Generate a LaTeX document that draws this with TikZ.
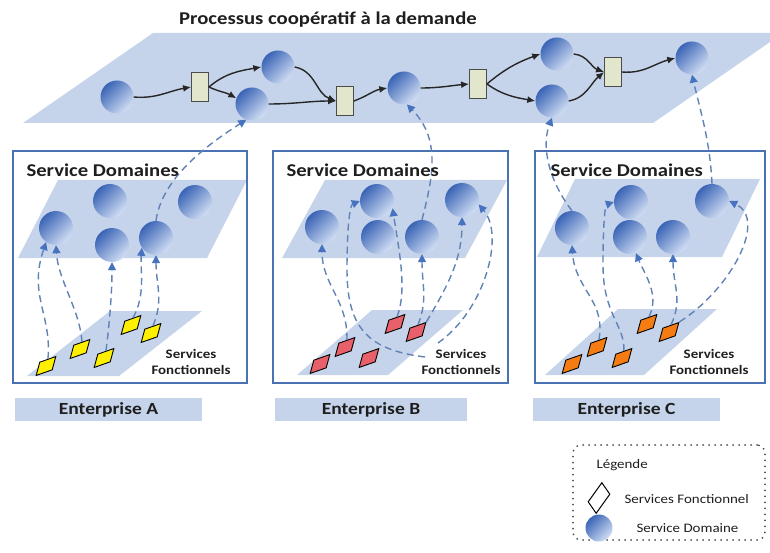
\documentclass[tikz,border=0pt]{standalone}
\usepackage{fontspec}
\setmainfont{Carlito}[FakeStretch=1.15]
\usetikzlibrary{arrows.meta,shapes.geometric}
\definecolor{planeblue}{RGB}{197,212,234}
\definecolor{boxblue}{RGB}{74,114,178}
\definecolor{linkblue}{RGB}{96,130,182}
\definecolor{tipblue}{RGB}{70,114,192}
\definecolor{domdark}{RGB}{58,100,182}
\definecolor{domlight}{RGB}{210,223,244}
\definecolor{gatefill}{RGB}{226,230,204}
\definecolor{svcyellow}{RGB}{255,240,0}
\definecolor{svcred}{RGB}{232,96,106}
\definecolor{svcorange}{RGB}{245,124,18}
\definecolor{inkdark}{RGB}{30,30,30}

\begin{document}
\begin{tikzpicture}[x=1pt,y=1pt,
    plane/.style={fill=planeblue},
    ebox/.style={draw=boxblue, line width=1.2pt},
    ebar/.style={fill=planeblue, minimum width=187pt, minimum height=23pt, inner sep=0pt,
                 text=inkdark, font=\bfseries\fontsize{17}{19}\selectfont},
    dom/.style={circle, inner sep=0pt, minimum size=33pt,
                top color=domdark, bottom color=domlight, shading angle=45},
    gate/.style={draw=black!70, fill=gatefill, line width=0.8pt,
                 minimum width=17pt, minimum height=29pt, inner sep=0pt},
    fsvc/.style={rectangle, draw=black, line width=0.9pt, minimum width=16pt,
                 minimum height=12pt, inner sep=0pt, yslant=0.35, xslant=0.3},
    flow/.style={-{Latex[length=8pt,width=7pt]}, line width=1.4pt, black!85},
    link/.style={-{Triangle[length=8pt,width=8pt,color=tipblue]}, draw=linkblue,
                 line width=1.4pt, dash pattern=on 7pt off 4.5pt},
    ttl/.style={text=inkdark, font=\bfseries\fontsize{18}{20}\selectfont},
    sdlbl/.style={anchor=west, text=inkdark, font=\bfseries\fontsize{18}{20}\selectfont},
    sflbl/.style={align=center, text=inkdark, font=\bfseries\fontsize{13}{16}\selectfont},
    leglbl/.style={anchor=west, text=inkdark, font=\fontsize{13}{15}\selectfont}
  ]
  \useasboundingbox (0,0) rectangle (770,-553);

  % planes
  \fill[plane] (153,-33) -- (770,-33) -- (770,-42) -- (653,-123) -- (23,-123) -- cycle;
  \fill[plane] (58,-180) -- (247,-180) -- (207,-258) -- (18,-258) -- cycle;
  \fill[plane] (325,-180) -- (507,-180) -- (465,-258) -- (282,-258) -- cycle;
  \fill[plane] (575,-179) -- (760,-179) -- (722,-257) -- (537,-257) -- cycle;
  \fill[plane] (110,-311) -- (202,-311) -- (119,-376) -- (27,-376) -- cycle;
  \fill[plane] (372,-310) -- (463,-310) -- (388,-375) -- (297,-375) -- cycle;
  \fill[plane] (618,-309) -- (717,-309) -- (644,-375) -- (545,-375) -- cycle;

  % enterprise boxes and bars
  \draw[ebox] (13,-151) rectangle (247,-383);
  \draw[ebox] (273,-151) rectangle (508,-383);
  \draw[ebox] (535,-151) rectangle (765,-383);
  \node[ebar] (ea) at (108.5,-409.5) {Enterprise A};
  \node[ebar, minimum width=192pt] (eb) at (371,-409.5) {Enterprise B};
  \node[ebar] (ec) at (626.5,-409.5) {Enterprise C};

  % legend
  \node[draw=black!70, rounded corners=8pt, line width=2pt, line cap=round,
        dash pattern=on 0pt off 6pt, minimum width=192pt, minimum height=95pt] (leg) at (669,-492.5) {};
  \node[leglbl] (legt) at (593,-465) {Légende};
  \node[diamond, draw=black, line width=1pt, minimum width=22pt, minimum height=29pt,
        inner sep=0pt, yslant=0.35, xslant=0.2] (legd) at (599,-498) {};
  \node[leglbl] (legdt) at (621,-499) {Services Fonctionnel};
  \node[dom, minimum size=27pt] (legc) at (599,-528) {};
  \node[leglbl] (legct) at (633,-528) {Service Domaine};

  % process on demand
  \node[dom] (t1) at (117,-97) {};
  \node[gate] (g1) at (200,-87) {};
  \node[dom] (t2) at (278,-67) {};
  \node[dom] (t3) at (252,-104) {};
  \node[gate] (g2) at (345,-101) {};
  \node[dom] (t4) at (404,-88) {};
  \node[gate] (g3) at (478,-84) {};
  \node[dom] (t5) at (557,-54) {};
  \node[dom] (t6) at (552,-101) {};
  \node[gate] (g4) at (613,-72) {};
  \node[dom] (t7) at (692,-58) {};

  % domain services
  \node[dom, minimum size=34pt] (a1) at (56,-228) {};
  \node[dom, minimum size=34pt] (a2) at (110,-201) {};
  \node[dom, minimum size=34pt] (a3) at (195,-202) {};
  \node[dom, minimum size=34pt] (a4) at (112,-245) {};
  \node[dom, minimum size=34pt] (a5) at (156,-238) {};
  \node[dom, minimum size=34pt] (b1) at (322,-227) {};
  \node[dom, minimum size=34pt] (b2) at (377,-201) {};
  \node[dom, minimum size=34pt] (b3) at (378,-237) {};
  \node[dom, minimum size=34pt] (b4) at (422,-237) {};
  \node[dom, minimum size=34pt] (b5) at (462,-200) {};
  \node[dom, minimum size=34pt] (c1) at (572,-228) {};
  \node[dom, minimum size=34pt] (c2) at (631,-202) {};
  \node[dom, minimum size=34pt] (c3) at (630,-237) {};
  \node[dom, minimum size=34pt] (c4) at (673,-237) {};
  \node[dom, minimum size=34pt] (c5) at (712,-201) {};

  % functional services
  \node[fsvc, fill=svcyellow] (fa1) at (46,-366) {};
  \node[fsvc, fill=svcyellow] (fa2) at (80,-349) {};
  \node[fsvc, fill=svcyellow] (fa3) at (104,-358) {};
  \node[fsvc, fill=svcyellow] (fa4) at (131,-325) {};
  \node[fsvc, fill=svcyellow] (fa5) at (151,-333) {};
  \node[fsvc, fill=svcred] (fb1) at (320,-364) {};
  \node[fsvc, fill=svcred] (fb2) at (345,-347) {};
  \node[fsvc, fill=svcred] (fb3) at (369,-358) {};
  \node[fsvc, fill=svcred] (fb4) at (395,-324) {};
  \node[fsvc, fill=svcred] (fb5) at (416,-332) {};
  \node[fsvc, fill=svcorange] (fc1) at (572,-364) {};
  \node[fsvc, fill=svcorange] (fc2) at (597,-347) {};
  \node[fsvc, fill=svcorange] (fc3) at (622,-358) {};
  \node[fsvc, fill=svcorange] (fc4) at (647,-324) {};
  \node[fsvc, fill=svcorange] (fc5) at (669,-332) {};

  % flow
  \draw[flow] (t1.east) to[out=-5,in=190] (g1.west);
  \draw[flow] (g1.east) to[out=40,in=190] (t2.west);
  \draw[flow] (g1.east) to[out=-25,in=150] (t3.160);
  \draw[flow] (t2.east) to[out=-10,in=160] (g2.west);
  \draw[flow] (t3.east) to[out=0,in=180] (g2.west);
  \draw[flow] (g2.east) to[out=20,in=190] (t4.west);
  \draw[flow] (t4.east) to[out=0,in=185] (g3.west);
  \draw[flow] (g3.east) to[out=40,in=200] (t5.west);
  \draw[flow] (g3.east) to[out=-35,in=170] (t6.west);
  \draw[flow] (t5.east) to[out=-5,in=160] (g4.west);
  \draw[flow] (t6.east) to[out=10,in=-140] (g4.west);
  \draw[flow] (g4.east) to[out=-5,in=195] (t7.west);

  % links, enterprise A
  \draw[link] (fa1.north) .. controls (52,-315) and (28,-295) .. (a1.235);
  \draw[link] (fa2.north) .. controls (80,-310) and (58,-280) .. (a1.south);
  \draw[link] (fa3.north) .. controls (110,-320) and (112,-290) .. (a4.south);
  \draw[link] (fa4.north) .. controls (146,-295) and (140,-270) .. (a5.215);
  \draw[link] (fa5.north) .. controls (164,-300) and (156,-285) .. (a5.south);
  \draw[link] (a5.north) .. controls (162,-175) and (215,-140) .. (t3.250);
  % links, enterprise B
  \coordinate (kb) at (425,-357);
  \coordinate (kb2) at (438,-343);
  \draw[link] (fb2.north) .. controls (348,-300) and (322,-285) .. (b1.south);
  \draw[link] (kb) .. controls (370,-350) and (347,-330) .. (347,-270)
                   .. controls (347,-225) and (350,-205) .. (b2.west);
  \draw[link] (fb4.north) .. controls (408,-290) and (398,-245) .. (b2.-25);
  \draw[link] (fb5.north) .. controls (428,-300) and (422,-285) .. (b4.south);
  \draw[link] (fb5.north east) .. controls (445,-290) and (462,-262) .. (b5.south);
  \draw[link] (kb2) .. controls (485,-310) and (505,-235) .. (b5.-15);
  \draw[link] (b4.north) .. controls (432,-180) and (442,-140) .. (t4.-80);
  % links, enterprise C
  \draw[link] (fc2.north) .. controls (606,-300) and (575,-290) .. (c1.south);
  \draw[link] (fc3.north) .. controls (625,-325) and (603,-315) .. (603,-265)
                   .. controls (603,-225) and (605,-205) .. (c2.west);
  \draw[link] (fc4.north) .. controls (660,-295) and (645,-275) .. (c3.-70);
  \draw[link] (fc5.north) .. controls (683,-300) and (673,-285) .. (c4.south);
  \draw[link] (fc5.north east) .. controls (730,-290) and (768,-220) .. (c5.east);
  \draw[link] (c1.north) .. controls (552,-185) and (540,-150) .. (t6.south);
  \draw[link] (c5.north) .. controls (710,-140) and (700,-110) .. (t7.south);

  % labels
  \node[ttl] (title) at (328,-20) {Processus coopératif à la demande};
  \node[sdlbl] (sda) at (23,-170) {Service Domaines};
  \node[sdlbl] (sdb) at (283,-170) {Service Domaines};
  \node[sdlbl] (sdc) at (547,-170) {Service Domaines};
  \node[sflbl] (sfa) at (191,-362) {Services\\Fonctionnels};
  \node[sflbl] (sfb) at (461,-362) {Services\\Fonctionnels};
  \node[sflbl] (sfc) at (709,-362) {Services\\Fonctionnels};
\end{tikzpicture}
\end{document}
